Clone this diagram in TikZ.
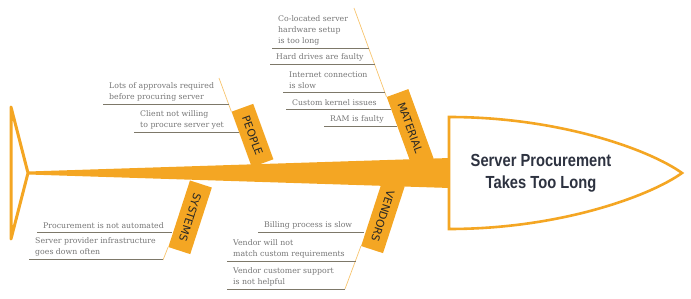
\documentclass[tikz,border=0pt]{standalone}
\usepackage{fontspec}
\setmainfont{DejaVu Serif}
\newfontfamily\labelfont{DejaVu Sans}
\newfontfamily\headfont[FakeStretch=0.84]{Liberation Sans}
\usepackage{tikz}
\usetikzlibrary{calc}

% ---------- Colours ----------
\definecolor{boneorange}{RGB}{244,166,35}
\definecolor{thinorange}{RGB}{247,196,110}
\definecolor{causegray}{RGB}{118,118,118}
\definecolor{rulegray}{RGB}{125,120,105}
\definecolor{headink}{RGB}{45,50,64}

\tikzset{
  catbox/.style={fill=boneorange, inner sep=0pt, minimum height=23pt,
    font=\labelfont\fontsize{10.8}{12}\selectfont, text=black!85},
  causetext/.style={anchor=south west, inner sep=0pt, align=left, text=causegray,
    font=\fontsize{7.8}{11}\selectfont},
  causerule/.style={draw=rulegray, line width=0.9pt},
  branch/.style={draw=thinorange, line width=0.7pt},
}

\begin{document}
\begin{tikzpicture}[x=1pt, y=-1pt]

% (0,0) = upper left corner of the picture, y grows downwards
\useasboundingbox (0,0) rectangle (691,299);

% ---------- Tail ----------
\draw[boneorange, line width=3pt, line join=round] (11,107) -- (28,173) -- (11,239) -- cycle;

% ---------- Category boxes ----------
\node[catbox, rotate=-70, minimum width=59pt] (people) at (252.5,135.5) {PEOPLE};
\node[catbox, rotate=-70, minimum width=74pt] (material) at (410.2,127.8) {MATERIAL};
\node[catbox, rotate=-108, minimum width=70pt] (systems) at (190.1,217.3) {SYSTEMS};
\node[catbox, rotate=-108, minimum width=70pt] (vendors) at (382.9,216.3) {VENDORS};

% ---------- Thin branch lines ----------
\coordinate (people end) at (219,78);
\coordinate (material end) at (354,8);
\coordinate (systems end) at (163,260);
\coordinate (vendors end) at (345,289);
\draw[branch] (people end) -- (people.south west);
\draw[branch] (material end) -- (material.south west);
\draw[branch] (systems.south east) -- (systems end);
\draw[branch] (vendors.south east) -- (vendors end);

% ---------- Causes: start of rule / end of rule / rule height / text ----------
\foreach \xs/\xe/\y/\txt [count=\i] in {
    103/229/104/{Lots of approvals required\\before procuring server},
    134/239/132/{Client not willing\\to procure server yet}}{
  \draw[causerule] (\xs,\y) -- (\xe,\y);
  \node[causetext] (people cause \i) at (\xs+6,\y-3) {\txt};
}
\foreach \xs/\xe/\y/\txt [count=\i] in {
    272/369/48/{Co-located server\\hardware setup\\is too long},
    270/375/64/{Hard drives are faulty},
    283/385/92/{Internet connection\\is slow},
    286/391/109/{Custom kernel issues},
    324/397/126/{RAM is faulty}}{
  \draw[causerule] (\xs,\y) -- (\xe,\y);
  \node[causetext] (material cause \i) at (\xs+6,\y-3) {\txt};
}
\foreach \xs/\xe/\y/\txt [count=\i] in {
    37/172/232/{Procurement is not automated},
    29/163/259/{Server provider infrastructure\\goes down often}}{
  \draw[causerule] (\xs,\y) -- (\xe,\y);
  \node[causetext] (systems cause \i) at (\xs+6,\y-3) {\txt};
}
\foreach \xs/\xe/\y/\txt [count=\i] in {
    258/364/232/{Billing process is slow},
    227/356/261/{Vendor will not\\match custom requirements},
    227/345/289/{Vendor customer support\\is not helpful}}{
  \draw[causerule] (\xs,\y) -- (\xe,\y);
  \node[causetext] (vendors cause \i) at (\xs+6,\y-3) {\txt};
}

% ---------- Spine ----------
\fill[boneorange] (28,171.5) -- (450,158) -- (450,188) -- (28,174.5) -- cycle;

% ---------- Head ----------
\draw[boneorange, line width=2.6pt, fill=white]
  (449,117) .. controls (560,117) and (650,150) .. (682,173)
  .. controls (650,196) and (560,229) .. (449,229) -- cycle;
\node[font=\headfont\bfseries\fontsize{17.5}{22}\selectfont, text=headink, align=center]
  (problem) at (541,173) {Server Procurement\\Takes Too Long};

\end{tikzpicture}
\end{document}
